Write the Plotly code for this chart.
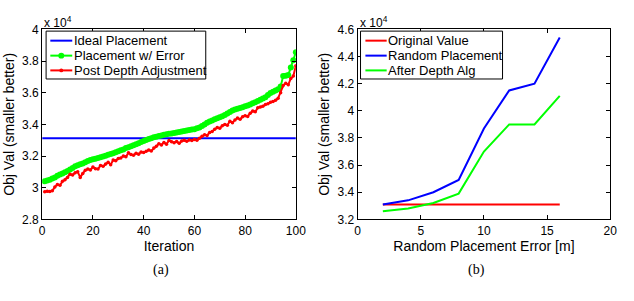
import plotly.graph_objects as go

# ---- Data (objective values in units of 1e4) ----
iterations = list(range(1, 101))
ideal_value = 3.312
placement_error = [
    3.040, 3.045, 3.050, 3.058, 3.065, 3.075, 3.083, 3.090, 3.097, 3.105,
    3.115, 3.125, 3.135, 3.142, 3.148, 3.153, 3.160, 3.168, 3.175, 3.180,
    3.183, 3.188, 3.192, 3.197, 3.202, 3.208, 3.213, 3.218, 3.224, 3.230,
    3.236, 3.242, 3.250, 3.256, 3.262, 3.268, 3.274, 3.280, 3.288, 3.295,
    3.302, 3.308, 3.313, 3.318, 3.322, 3.326, 3.330, 3.334, 3.337, 3.340,
    3.343, 3.346, 3.349, 3.352, 3.355, 3.358, 3.361, 3.364, 3.367, 3.370,
    3.375, 3.380, 3.390, 3.400, 3.410, 3.418, 3.425, 3.432, 3.438, 3.445,
    3.452, 3.460, 3.468, 3.478, 3.488, 3.494, 3.498, 3.503, 3.508, 3.515,
    3.520, 3.526, 3.533, 3.540, 3.548, 3.556, 3.564, 3.572, 3.585, 3.598,
    3.606, 3.614, 3.622, 3.640, 3.705, 3.708, 3.712, 3.760, 3.805, 3.855,
]
post_depth = [
    2.975, 2.978, 2.976, 2.980, 3.005, 3.020, 3.015, 3.040, 3.050, 3.065,
    3.085, 3.080, 3.095, 3.100, 3.065, 3.090, 3.110, 3.118, 3.112, 3.130,
    3.120, 3.118, 3.140, 3.135, 3.150, 3.160, 3.145, 3.175, 3.170, 3.185,
    3.188, 3.200, 3.195, 3.220, 3.210, 3.205, 3.218, 3.212, 3.225, 3.222,
    3.230, 3.238, 3.232, 3.250, 3.262, 3.278, 3.270, 3.285, 3.275, 3.298,
    3.290, 3.284, 3.292, 3.280, 3.295, 3.300, 3.293, 3.302, 3.298, 3.305,
    3.300, 3.312, 3.325, 3.335, 3.330, 3.348, 3.355, 3.370, 3.380, 3.375,
    3.392, 3.400, 3.395, 3.420, 3.410, 3.428, 3.440, 3.432, 3.448, 3.455,
    3.450, 3.470, 3.485, 3.480, 3.505, 3.510, 3.515, 3.525, 3.530, 3.540,
    3.545, 3.552, 3.565, 3.600, 3.645, 3.660, 3.650, 3.690, 3.705, 3.770,
]

error_m = [2, 4, 6, 8, 10, 12, 14, 16]
original_value = [3.31, 3.31, 3.31, 3.31, 3.31, 3.31, 3.31, 3.31]
random_placement = [3.31, 3.34, 3.40, 3.49, 3.87, 4.15, 4.20, 4.54]
after_depth = [3.26, 3.28, 3.32, 3.39, 3.70, 3.90, 3.90, 4.11]

left_yticks = [2.8, 3.0, 3.2, 3.4, 3.6, 3.8, 4.0]
left_ytext = ["2.8", "3", "3.2", "3.4", "3.6", "3.8", "4"]
right_yticks = [3.2, 3.4, 3.6, 3.8, 4.0, 4.2, 4.4, 4.6]
right_ytext = ["3.2", "3.4", "3.6", "3.8", "4", "4.2", "4.4", "4.6"]

left_names = ["Ideal Placement", "Placement w/ Error", "Post Depth Adjustment"]
right_names = ["Original Value", "Random Placement", "After Depth Alg"]

FONT = "Liberation Sans, Arial, sans-serif"
SERIF = "Liberation Serif, Times New Roman, serif"
BLUE, GREEN, RED = "#0000ff", "#00ff00", "#ff0000"
W, H = 634, 301

left_colors = [BLUE, GREEN, RED]
left_marker = [None, 6, 4]
right_colors = [RED, BLUE, GREEN]

fig = go.Figure()

# Left panel
fig.add_trace(go.Scatter(x=[0, 100], y=[ideal_value, ideal_value], mode="lines",
                         line=dict(color=BLUE, width=2), name=left_names[0],
                         xaxis="x", yaxis="y"))
fig.add_trace(go.Scatter(x=iterations, y=placement_error, mode="lines+markers",
                         line=dict(color=GREEN, width=2), marker=dict(color=GREEN, size=6),
                         name=left_names[1], xaxis="x", yaxis="y"))
fig.add_trace(go.Scatter(x=iterations, y=post_depth, mode="lines+markers",
                         line=dict(color=RED, width=2), marker=dict(color=RED, size=3.5),
                         name=left_names[2], xaxis="x", yaxis="y"))

# Right panel
for yy, nm, col in zip([original_value, random_placement, after_depth], right_names, right_colors):
    fig.add_trace(go.Scatter(x=error_m, y=yy, mode="lines", line=dict(color=col, width=2),
                             name=nm, xaxis="x2", yaxis="y2"))

ax_common = dict(showgrid=False, zeroline=False, showline=True, linecolor="black",
                 linewidth=1, mirror="ticks", ticks="inside", ticklen=4,
                 tickcolor="black", tickfont=dict(family=FONT, size=12, color="black"))

ydom = [1 - 222.7 / H, 1 - 23.5 / H]

fig.update_layout(
    width=W, height=H,
    margin=dict(l=0, r=0, t=0, b=0),
    paper_bgcolor="white", plot_bgcolor="white",
    font=dict(family=FONT, color="black"),
    showlegend=False,
    xaxis=dict(domain=[40 / W, 299 / W], range=[0, 100], tickvals=[0, 20, 40, 60, 80, 100],
               title=dict(text="Iteration", font=dict(size=14), standoff=2), anchor="y", **ax_common),
    yaxis=dict(domain=ydom, range=[2.8, 4.0], tickvals=left_yticks, ticktext=left_ytext,
               title=dict(text="Obj Val (smaller better)", font=dict(size=14), standoff=4),
               anchor="x", **ax_common),
    xaxis2=dict(domain=[362 / W, 620 / W], range=[0, 20], tickvals=[0, 5, 10, 15, 20],
                title=dict(text="Random Placement Error [m]", font=dict(size=14), standoff=2),
                anchor="y2", **ax_common),
    yaxis2=dict(domain=ydom, range=[3.2, 4.6], tickvals=right_yticks, ticktext=right_ytext,
                title=dict(text="Obj Val (smaller better)", font=dict(size=14), standoff=4),
                anchor="x2", **ax_common),
)


def px(x):
    return x / W


def py(y):
    return 1 - y / H


def add_legend(box, line_x, text_x, rows, names, colors, markers):
    x0, y0, x1, y1 = box
    fig.add_shape(type="rect", xref="paper", yref="paper",
                  x0=px(x0), x1=px(x1), y0=py(y1), y1=py(y0),
                  line=dict(color="black", width=1), fillcolor="white", layer="above")
    for ry, nm, col, mk in zip(rows, names, colors, markers):
        fig.add_shape(type="line", xref="paper", yref="paper",
                      x0=px(line_x[0]), x1=px(line_x[1]), y0=py(ry), y1=py(ry),
                      line=dict(color=col, width=2), layer="above")
        if mk:
            cx = (line_x[0] + line_x[1]) / 2
            fig.add_shape(type="circle", xref="paper", yref="paper",
                          x0=px(cx - mk / 2), x1=px(cx + mk / 2),
                          y0=py(ry + mk / 2), y1=py(ry - mk / 2),
                          line=dict(color=col, width=0), fillcolor=col, layer="above")
        fig.add_annotation(x=px(text_x), y=py(ry), xref="paper", yref="paper", text=nm,
                           showarrow=False, xanchor="left", yanchor="middle",
                           font=dict(family=FONT, size=13, color="black"))


rows = [35.3, 51.0, 66.5]
add_legend((44, 25.3, 207, 75.5), (48.3, 70.7), 70.5, rows, left_names, left_colors, left_marker)
add_legend((365, 25.3, 510, 75.5), (370, 391.7), 391.5, rows, right_names, right_colors,
           [None, None, None])

# multiplier labels and captions
for xpos in (40, 362):
    fig.add_annotation(x=px(xpos), y=py(15.5), xref="paper", yref="paper",
                       text="x 10<sup>4</sup>", showarrow=False, xanchor="left", yanchor="middle",
                       font=dict(family=FONT, size=12, color="black"))
fig.add_annotation(x=px(161), y=py(275.5), xref="paper", yref="paper", text="(a)",
                   showarrow=False, xanchor="center", yanchor="middle",
                   font=dict(family=SERIF, size=14, color="black"))
fig.add_annotation(x=px(483), y=py(275.5), xref="paper", yref="paper", text="(b)",
                   showarrow=False, xanchor="center", yanchor="middle",
                   font=dict(family=SERIF, size=14, color="black"))

fig.write_html("out.html")
